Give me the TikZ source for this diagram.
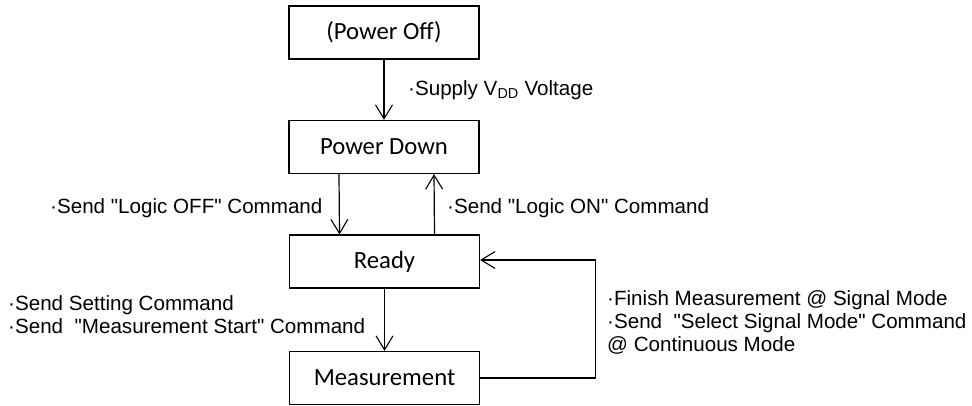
\documentclass[tikz,border=0pt]{standalone}
\usepackage{fontspec}
\setmainfont{Liberation Sans}[Ligatures=TeXOff]
\newfontfamily\boxfont{Carlito}
\usetikzlibrary{arrows.meta}
\begin{document}
\begin{tikzpicture}[x=1pt,y=-1pt,
  statebox/.style={draw,line width=1.2pt,minimum width=190pt,minimum height=53pt,inner sep=0pt,font=\boxfont\fontsize{24.7}{28}\selectfont},
  lbl/.style={anchor=west,inner sep=0pt,align=left,font=\fontsize{20.6}{23}\selectfont},
  conn/.style={line width=1.2pt,-{Straight Barb[length=14pt,width=17pt,line width=1.1pt]}}]
\useasboundingbox (0,0) rectangle (972,405);
\node[statebox] (off) at (384,32.5) {(Power Off)};
\node[statebox] (down) at (384,147) {Power Down};
\node[statebox] (ready) at (384.5,261.5) {Ready};
\node[statebox] (meas) at (384.5,378) {Measurement};
\draw[conn] (off.south) -- (down.north);
\draw[conn] ([xshift=-45pt]down.south) -- ([xshift=-45pt]ready.north);
\draw[conn] ([xshift=50pt]ready.north) -- ([xshift=50pt]down.south);
\draw[conn] (ready.south) -- (meas.north);
\draw[conn] (meas.east) -- ++(115pt,0) |- ([yshift=1.5pt]ready.east);
\node[lbl] (l1) at (408,90) {·Supply V\textsubscript{DD} Voltage};
\node[lbl] (l2) at (50,208) {·Send "Logic OFF" Command};
\node[lbl] (l3) at (447,208) {·Send "Logic ON" Command};
\node[lbl] (l4) at (8,315) {·Send Setting Command\\·Send \ "Measurement Start" Command};
\node[lbl] (l5) at (607,322.5) {·Finish Measurement @ Signal Mode\\·Send \ "Select Signal Mode" Command\\@ Continuous Mode};
\end{tikzpicture}
\end{document}
